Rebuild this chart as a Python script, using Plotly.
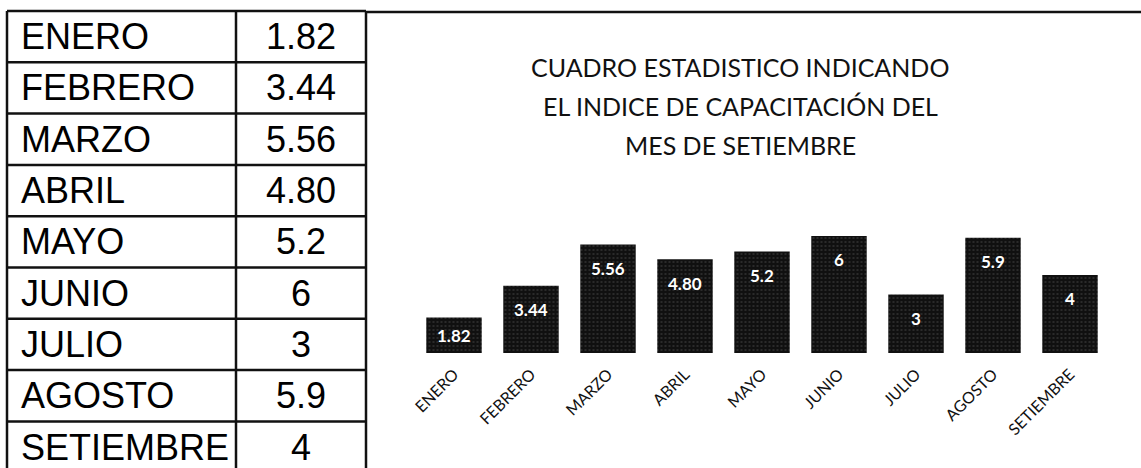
import plotly.graph_objects as go

# Monthly training index
meses = ["ENERO", "FEBRERO", "MARZO", "ABRIL", "MAYO", "JUNIO", "JULIO", "AGOSTO", "SETIEMBRE"]
indices = [1.82, 3.44, 5.56, 4.80, 5.2, 6, 3, 5.9, 4]
etiquetas = ["1.82", "3.44", "5.56", "4.80", "5.2", "6", "3", "5.9", "4"]
titulo = ["CUADRO ESTADISTICO INDICANDO", "EL INDICE DE CAPACITACIÓN DEL", "MES DE SETIEMBRE"]

W, H = 1141, 468


def px(x):
    return x / W


def py(y):
    return 1 - y / H


fig = go.Figure()

fig.add_trace(go.Bar(
    x=meses,
    y=indices,
    marker=dict(
        color="#101010",
        line=dict(width=0),
        pattern=dict(shape=".", fgcolor="#8a8a8a", size=4, solidity=0.12),
    ),
    width=0.72,
    hoverinfo="skip",
))

annotations = []

# value labels inside the bars, a little below each bar top
for m, v, t in zip(meses, indices, etiquetas):
    annotations.append(dict(
        x=m, y=v, xref="x", yref="y", text=t, showarrow=False,
        yshift=-min(24, v * 19.5 / 2),
        font=dict(family="Lato", size=17, color="white", weight="bold"),
    ))

# chart title, three centred lines
for i, linea in enumerate(titulo):
    annotations.append(dict(
        x=px(740), y=py(67 + 39 * i), xref="paper", yref="paper",
        text=linea, showarrow=False, xanchor="center", yanchor="middle",
        font=dict(family="Lato", size=25, color="#111"),
    ))

# data table on the left
x0, xdiv, x1 = 7, 236, 366
y0, rh = 11, 51.3
shapes = []
line_style = dict(color="#111", width=2.5)
n = len(meses)
for i in range(n + 1):
    y = y0 + rh * i
    shapes.append(dict(type="line", xref="paper", yref="paper",
                       x0=px(x0), x1=px(x1), y0=py(y), y1=py(y), line=line_style))
for xv in (x0, xdiv, x1):
    shapes.append(dict(type="line", xref="paper", yref="paper",
                       x0=px(xv), x1=px(xv), y0=py(y0), y1=0, line=line_style))
# top border continuing over the chart area
shapes.append(dict(type="line", xref="paper", yref="paper",
                   x0=px(x1), x1=1, y0=py(12), y1=py(12), line=line_style))

for i, (m, t) in enumerate(zip(meses, etiquetas)):
    yc = y0 + rh * (i + 0.5)
    annotations.append(dict(
        x=px(19), y=py(yc), xref="paper", yref="paper", text=m,
        showarrow=False, xanchor="left", yanchor="middle",
        font=dict(family="Liberation Sans", size=36, color="black"),
    ))
    annotations.append(dict(
        x=px((xdiv + x1) / 2), y=py(yc), xref="paper", yref="paper", text=t,
        showarrow=False, xanchor="center", yanchor="middle",
        font=dict(family="Liberation Sans", size=36, color="black"),
    ))

fig.update_layout(
    width=W, height=H, autosize=False,
    margin=dict(l=0, r=0, t=0, b=0, pad=0, autoexpand=False),
    paper_bgcolor="white", plot_bgcolor="white",
    showlegend=False,
    annotations=annotations,
    shapes=shapes,
    xaxis=dict(
        domain=[px(415.5), px(1108.5)],
        tickangle=-45,
        tickfont=dict(family="Lato", size=16, color="#111"),
        ticklabelstandoff=8,
        showline=False, showgrid=False, zeroline=False, ticks="",
        anchor="y", automargin=False,
    ),
    yaxis=dict(
        domain=[py(353), py(232)],
        range=[0, 6.2],
        visible=False, automargin=False,
        showgrid=False, zeroline=False,
    ),
)

fig.write_html("out.html")
